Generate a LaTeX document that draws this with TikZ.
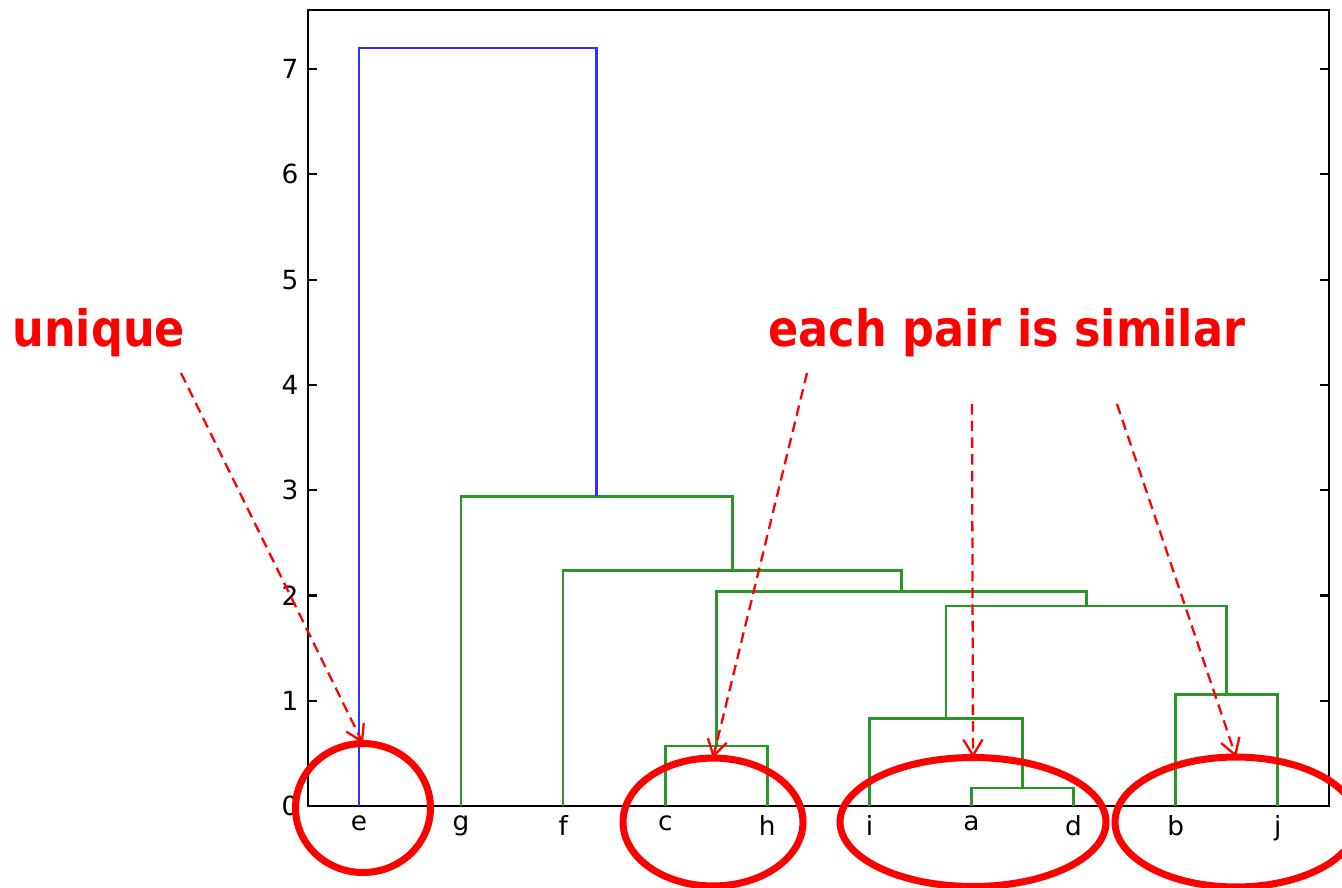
\documentclass[tikz,border=0pt]{standalone}
\usepackage{fontspec}
\setmainfont{DejaVu Sans}
\newfontfamily\notefont[FakeStretch=0.89]{DejaVu Sans}
\usetikzlibrary{shapes.geometric, arrows.meta}
\definecolor{linkgreen}{RGB}{40, 150, 40}
\definecolor{linkblue}{RGB}{50, 50, 255}
\definecolor{notered}{RGB}{255, 0, 0}

\begin{document}
\begin{tikzpicture}[x=0.02cm, y=-0.02cm,
		axis/.style={black, line width=1.2pt},
		glink/.style={linkgreen, line width=1.5pt},
		blink/.style={linkblue, line width=1.5pt},
		ticklabel/.style={inner sep=0pt, font=\fontsize{15}{17}\selectfont},
		leaflabel/.style={inner sep=0pt, anchor=north, font=\fontsize{15}{17}\selectfont},
		ring/.style={ellipse, draw=notered, line width=4pt, inner sep=0pt, outer sep=0pt},
		note/.style={text=notered, inner sep=0pt, anchor=base west, font=\notefont\bfseries\fontsize{28.5}{32}\selectfont},
		pointer/.style={notered, line width=1.3pt, dash pattern=on 6pt off 3.5pt, -{Straight Barb[length=9pt, width=11pt]}}]
	\useasboundingbox (0,0) rectangle (1342,887);

	% --- Dendrogram, in data units ---
	\begin{scope}[shift={(359,806)}, x=2.042cm, y=2.106cm]
		\def\ytop{7.56}
		\draw[axis] (-0.5,0) rectangle (9.5,\ytop);
		\foreach \v in {0,...,7} {
			\draw[axis] (-0.5,\v) -- ++(0.09,0);
			\draw[axis] (9.5,\v) -- ++(-0.09,0);
			\node[ticklabel, anchor=east] (tick-\v) at (-0.59,\v) {\v};
		}

		\foreach \lbl [count=\k from 0] in {e,g,f,c,h,i,a,d,b,j}
			\node[leaflabel] (leaf-\lbl) at (\k,-0.085) {\lbl};

		% links: left x / left h / right x / right h / merge height
		\foreach \xl/\hl/\xr/\hr/\h in {6/0/7/0/0.17, 3/0/4/0/0.57, 5/0/6.5/0.17/0.83,
				8/0/9/0/1.06, 5.75/0.83/8.5/1.06/1.90, 3.5/0.57/7.125/1.90/2.04,
				2/0/5.3125/2.04/2.24, 1/0/3.656/2.24/2.94}
			\draw[glink] (\xl,\hl) |- (\xr,\h) -- (\xr,\hr);
		\draw[blink] (0,0) |- (2.328,7.2) -- (2.328,2.94);
	\end{scope}

	% --- Red marks ---
	\node[ring, minimum width=2.7cm, minimum height=2.58cm] (ring-e) at (363,808) {};
	\node[ring, minimum width=3.6cm, minimum height=2.56cm] (ring-ch) at (713,822) {};
	\node[ring, minimum width=5.32cm, minimum height=2.58cm] (ring-iad) at (973,822) {};
	\node[ring, minimum width=4.84cm, minimum height=2.6cm] (ring-bj) at (1236,822) {};

	\node[note] (unique) at (12,346) {unique};
	\node[note] (pairs) at (768,346) {each pair is similar};

	\coordinate (from-e) at (181,373);
	\coordinate (from-ch) at (807,373);
	\coordinate (from-iad) at (972,404);
	\coordinate (from-bj) at (1117,404);

	\draw[pointer] (from-e) -- (ring-e.north);
	\draw[pointer] (from-ch) -- (ring-ch.north);
	\draw[pointer] (from-iad) -- (ring-iad.north);
	\draw[pointer] (from-bj) -- (ring-bj.north);
\end{tikzpicture}
\end{document}
